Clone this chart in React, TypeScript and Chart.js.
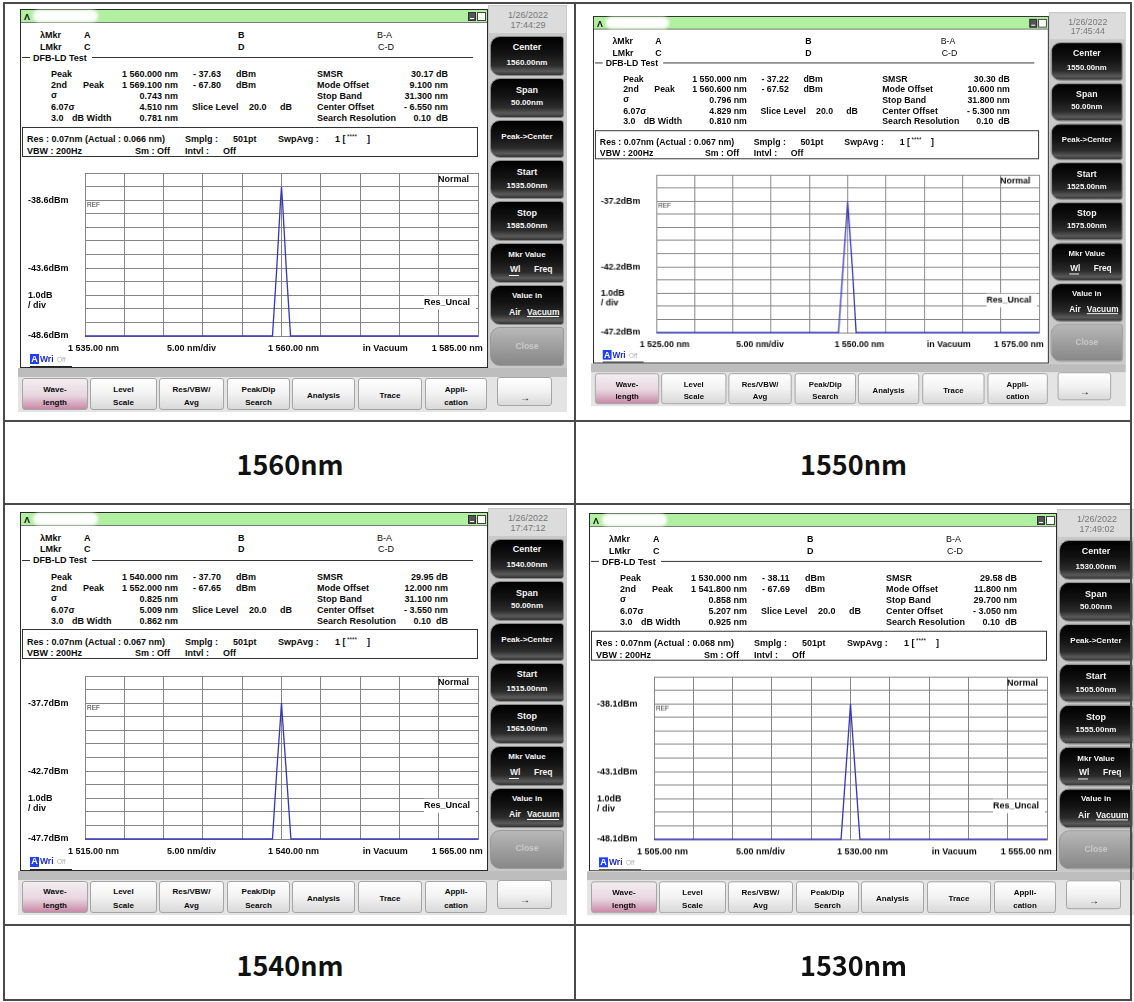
import React, { useEffect, useRef } from "react";
import { Chart, registerables } from "chart.js";
Chart.register(...registerables);

// ---------------- data ----------------
const captions = ["1560nm", "1550nm", "1540nm", "1530nm"];
const centerWl = [1560, 1550, 1540, 1530];
const spanWl = [50, 50, 50, 50];
const refLevel = [-38.6, -37.2, -37.7, -38.1];
const dateText = ["1/26/2022", "1/26/2022", "1/26/2022", "1/26/2022"];
const timeText = ["17:44:29", "17:45:44", "17:47:12", "17:49:02"];
const peakWlText = ["1 560.000 nm", "1 550.000 nm", "1 540.000 nm", "1 530.000 nm"];
const peakLvlText = ["- 37.63", "- 37.22", "- 37.70", "- 38.11"];
const secondWlText = ["1 569.100 nm", "1 560.600 nm", "1 552.000 nm", "1 541.800 nm"];
const secondLvlText = ["- 67.80", "- 67.52", "- 67.65", "- 67.69"];
const sigmaText = ["0.743", "0.796", "0.825", "0.858"];
const sigma607Text = ["4.510", "4.829", "5.009", "5.207"];
const width3dBText = ["0.781", "0.810", "0.862", "0.925"];
const smsrText = ["30.17", "30.30", "29.95", "29.58"];
const modeOffsetText = ["9.100", "10.600", "12.000", "11.800"];
const stopBandText = ["31.300", "31.800", "31.100", "29.700"];
const centerOffsetText = ["- 6.550", "- 5.300", "- 3.550", "- 3.050"];
const actualResText = ["0.066", "0.067", "0.067", "0.068"];

// traces (wavelength nm, level dBm) read from the screens; floor = bottom of screen
const trace1560Wl = [1535, 1558.85, 1559.4, 1559.85, 1560.0, 1560.15, 1560.6, 1561.15, 1585];
const trace1560Dbm = [-48.6, -48.6, -43.6, -38.9, -37.63, -38.9, -43.6, -48.6, -48.6];
const trace1550Wl = [1525, 1548.8, 1549.4, 1549.85, 1550.0, 1550.15, 1550.6, 1551.1, 1575];
const trace1550Dbm = [-47.2, -47.2, -42.2, -38.5, -37.22, -38.5, -42.2, -47.2, -47.2];
const trace1540Wl = [1515, 1538.85, 1539.4, 1539.85, 1540.0, 1540.15, 1540.6, 1541.2, 1565];
const trace1540Dbm = [-47.7, -47.7, -42.7, -39.0, -37.7, -39.0, -42.7, -47.7, -47.7];
const trace1530Wl = [1505, 1528.8, 1529.4, 1529.85, 1530.0, 1530.15, 1530.6, 1531.2, 1555];
const trace1530Dbm = [-48.1, -48.1, -43.1, -39.4, -38.11, -39.4, -43.1, -48.1, -48.1];
const traceWl = [trace1560Wl, trace1550Wl, trace1540Wl, trace1530Wl];
const traceDbm = [trace1560Dbm, trace1550Dbm, trace1540Dbm, trace1530Dbm];

const xDivisions = [0, 1, 2, 3, 4, 5, 6, 7, 8, 9, 10];
const yDivisions = [0, 1, 2, 3, 4, 5, 6, 7, 8, 9, 10, 11, 12];
const dbPerDiv = 1.0;

// panel placement (window top-left + scale)
const panelPos = [
  { ox: 20, oy: 9, sx: 1, sy: 1 },
  { ox: 593, oy: 16, sx: 0.974, sy: 0.968 },
  { ox: 20, oy: 511.5, sx: 1, sy: 1 },
  { ox: 589, oy: 513, sx: 1, sy: 0.998 },
];
const captionCells = [
  { x1: 5, x2: 575, y1: 422, y2: 504 },
  { x1: 576, x2: 1131, y1: 422, y2: 504 },
  { x1: 5, x2: 575, y1: 927, y2: 1001 },
  { x1: 576, x2: 1131, y1: 927, y2: 1001 },
];

const F = '"Liberation Sans", Arial, sans-serif';
const OX = 20;
const OY = 9;

function fmtNmLabel(v: number) {
  const th = Math.floor(v / 1000);
  const rest = (v - th * 1000).toFixed(2).padStart(6, "0");
  return `${th} ${rest} nm`;
}

const osaLabelPlugin = {
  id: "osaLabels",
  afterDraw(chart: any, _args: any, o: any) {
    const { ctx, chartArea: a, scales } = chart;
    const ys = scales.y;
    const xs = scales.x;
    ctx.save();
    ctx.fillStyle = "#0a0a0a";
    ctx.font = `bold 9px ${F}`;
    ctx.textBaseline = "middle";
    ctx.textAlign = "left";
    for (const [v, s] of o.yLabels) ctx.fillText(s, 7, ys.getPixelForValue(v));
    const ly = a.bottom + 12.3;
    ctx.fillText(fmtNmLabel(o.start), a.left - 17, ly);
    ctx.fillText(`${o.perDiv.toFixed(2)} nm/div`, a.left + (a.right - a.left) * 0.2087, ly);
    ctx.fillText(fmtNmLabel(o.center), xs.getPixelForValue(o.center) - 13.5, ly);
    ctx.fillText("in Vacuum", a.left + (a.right - a.left) * 0.707, ly);
    ctx.textAlign = "right";
    ctx.fillText(fmtNmLabel(o.stop), a.right + 4.7, ly);
    // Normal
    ctx.textBaseline = "top";
    ctx.fillText("Normal", a.right - 9, a.top + 2.5);
    // REF
    ctx.textAlign = "left";
    ctx.font = `6.5px ${F}`;
    ctx.fillStyle = "#333";
    ctx.fillText("REF", a.left + 2, ys.getPixelForValue(o.ref) + 2);
    // Res_Uncal
    const ry = ys.getPixelForValue(o.ref - 7.55);
    ctx.fillStyle = "#fff";
    ctx.fillRect(a.right - 54, ry - 7, 52, 14);
    ctx.fillStyle = "#0a0a0a";
    ctx.font = `bold 9px ${F}`;
    ctx.textBaseline = "middle";
    ctx.textAlign = "right";
    ctx.fillText("Res_Uncal", a.right - 8, ry);
    ctx.restore();
  },
};

function OsaChart({ i }: { i: number }) {
  const ref = useRef<HTMLCanvasElement>(null);
  useEffect(() => {
    const c = centerWl[i];
    const span = spanWl[i];
    const start = c - span / 2;
    const stop = c + span / 2;
    const r = refLevel[i];
    const top = r + 2 * dbPerDiv;
    const bottom = r - 10 * dbPerDiv;
    const chart = new Chart(ref.current as HTMLCanvasElement, {
      type: "line",
      data: {
        datasets: [
          {
            data: traceWl[i].map((x, k) => ({ x, y: traceDbm[i][k] })),
            borderColor: "#3636bc",
            borderWidth: 1.3,
            pointRadius: 0,
            tension: 0,
            clip: 3,
          } as any,
        ],
      },
      options: {
        animation: false,
        responsive: false,
        devicePixelRatio: 1,
        layout: { padding: { left: 64, right: 9, top: 8, bottom: 30 } },
        plugins: {
          legend: { display: false },
          tooltip: { enabled: false },
          osaLabels: {
            ref: r,
            start,
            stop,
            center: c,
            perDiv: span / 10,
            yLabels: [
              [r, `${r.toFixed(1)}dBm`],
              [r - 5 * dbPerDiv, `${(r - 5 * dbPerDiv).toFixed(1)}dBm`],
              [bottom, `${bottom.toFixed(1)}dBm`],
              [r - 7 * dbPerDiv, `${dbPerDiv.toFixed(1)}dB`],
              [r - 7.75 * dbPerDiv, "/ div"],
            ],
          },
        } as any,
        scales: {
          x: {
            type: "linear",
            min: start,
            max: stop,
            afterBuildTicks: (s: any) => {
              s.ticks = xDivisions.map((d) => ({ value: start + (d * span) / 10 }));
            },
            ticks: { display: false },
            grid: { color: "#858585", lineWidth: 1, drawTicks: false },
            border: { color: "#858585" },
          },
          y: {
            type: "linear",
            min: bottom,
            max: top,
            afterBuildTicks: (s: any) => {
              s.ticks = yDivisions.map((d) => ({ value: bottom + d * dbPerDiv }));
            },
            ticks: { display: false },
            grid: { color: "#858585", lineWidth: 1, drawTicks: false },
            border: { color: "#858585" },
          },
        },
      } as any,
      plugins: [osaLabelPlugin as any],
    });
    return () => chart.destroy();
  }, [i]);
  return (
    <canvas
      ref={ref}
      width={466}
      height={201}
      style={{ position: "absolute", left: 1, top: 156, width: 466, height: 201 }}
    />
  );
}

function T({ x, y, s, size = 9, w = 700, c = "#0a0a0a", a = "l" }: any) {
  const lh = 10;
  const top = y - OY - ((lh - 1.149 * size) / 2 + 0.189 * size);
  const st: any = {
    position: "absolute",
    top,
    fontFamily: F,
    fontSize: size,
    fontWeight: w,
    color: c,
    lineHeight: lh + "px",
    whiteSpace: "pre",
  };
  if (a === "l") st.left = x - OX;
  else if (a === "r") {
    st.left = x - OX - 300;
    st.width = 300;
    st.textAlign = "right";
  } else {
    st.left = x - OX - 150;
    st.width = 300;
    st.textAlign = "center";
  }
  return <div style={st}>{s}</div>;
}

function Bx({ x1, y1, x2, y2, st }: any) {
  return (
    <div
      style={{
        position: "absolute",
        left: x1 - OX,
        top: y1 - OY,
        width: x2 - x1,
        height: y2 - y1,
        boxSizing: "border-box",
        ...st,
      }}
    />
  );
}

const darkBtn = {
  background:
    "linear-gradient(180deg,#000 0%,#141414 45%,#2c2c2c 75%,#5a5a5a 90%,#333 100%)",
  borderRadius: "10px 3px 3px 10px",
  border: "1px solid #8a8a8a",
};
const grayBtn = {
  background: "linear-gradient(180deg,#b8b8b8 0%,#9a9a9a 60%,#888 100%)",
  borderRadius: "10px 3px 3px 10px",
  border: "1px solid #9a9a9a",
};
const lightBtn = {
  background: "linear-gradient(180deg,#ffffff 0%,#f2f2f2 50%,#d9d9d9 100%)",
  border: "1px solid #a5a5a5",
  borderRadius: 3,
};
const pinkBtn = {
  background: "linear-gradient(180deg,#f3eef0 0%,#e8d6df 55%,#c98aa8 100%)",
  border: "1px solid #a5a5a5",
  borderRadius: 3,
};
const bottomBtnX = [
  [22, 88],
  [90, 157],
  [159, 224],
  [227, 290],
  [292, 355],
  [358, 422],
  [425, 487],
];
const bottomBtnText = [
  ["Wave-", "length"],
  ["Level", "Scale"],
  ["Res/VBW/", "Avg"],
  ["Peak/Dip", "Search"],
  ["Analysis"],
  ["Trace"],
  ["Appli-", "cation"],
];

function Panel({ i, ox, oy, sx, sy }: any) {
  const c = centerWl[i];
  const span = spanWl[i];
  const rows = [70.7, 81.7, 92.7, 103.7, 114.7];
  const W = "#f4f4f4";
  return (
    <div
      style={{
        position: "absolute",
        left: ox,
        top: oy,
        width: 560,
        height: 410,
        transform: `scale(${sx},${sy})`,
        transformOrigin: "0 0",
      }}
    >
      {/* device background */}
      <Bx x1={18} y1={368} x2={567} y2={377} st={{ background: "#bdbdbd" }} />
      <Bx x1={18} y1={377} x2={567} y2={412} st={{ background: "#e4e4e4" }} />
      <Bx x1={488} y1={5} x2={567} y2={368} st={{ background: "#c9c9c9" }} />
      <Bx x1={489} y1={6} x2={566} y2={33} st={{ background: "#dcdcdc" }} />
      <T x={528} y={11.7} s={dateText[i]} size={9} w={400} c="#777" a="c" />
      <T x={528} y={21.7} s={timeText[i]} size={9} w={400} c="#777" a="c" />

      {/* side buttons */}
      <Bx x1={490} y1={36} x2={564} y2={76} st={darkBtn} />
      <T x={527} y={43.3} s="Center" c={W} a="c" />
      <T x={527} y={59.7} s={`${c.toFixed(2)}nm`} c={W} a="c" size={8} />
      <Bx x1={490} y1={78} x2={564} y2={118} st={darkBtn} />
      <T x={527} y={86.7} s="Span" c={W} a="c" />
      <T x={527} y={100} s={`${span.toFixed(2)}nm`} c={W} a="c" size={8} />
      <Bx x1={490} y1={120} x2={564} y2={158} st={darkBtn} />
      <T x={527} y={134} s="Peak->Center" c={W} a="c" size={8} />
      <Bx x1={490} y1={160} x2={564} y2={199} st={darkBtn} />
      <T x={527} y={168.3} s="Start" c={W} a="c" />
      <T x={527} y={183.3} s={`${(c - span / 2).toFixed(2)}nm`} c={W} a="c" size={8} />
      <Bx x1={490} y1={201} x2={564} y2={241} st={darkBtn} />
      <T x={527} y={210} s="Stop" c={W} a="c" />
      <T x={527} y={223.3} s={`${(c + span / 2).toFixed(2)}nm`} c={W} a="c" size={8} />
      <Bx x1={490} y1={243} x2={564} y2={283} st={darkBtn} />
      <T x={527} y={251.7} s="Mkr Value" c={W} a="c" size={8} />
      <T x={510} y={266} s="Wl" c={W} size={8.5} />
      <T x={534} y={266} s="Freq" c={W} size={8.5} />
      <Bx x1={509} y1={275} x2={519} y2={276} st={{ background: W }} />
      <Bx x1={490} y1={285} x2={564} y2={325} st={darkBtn} />
      <T x={527} y={293.3} s="Value in" c={W} a="c" size={8} />
      <T x={509} y={308.3} s="Air" c={W} size={8.5} />
      <T x={527} y={308.3} s="Vacuum" c={W} size={8.5} />
      <Bx x1={527} y1={316} x2={559} y2={317} st={{ background: W }} />
      <Bx x1={490} y1={327} x2={564} y2={366} st={grayBtn} />
      <T x={527} y={342.7} s="Close" c="#c8c8c8" a="c" size={8.5} />

      {/* bottom buttons */}
      {bottomBtnX.map(([x1, x2], k) => (
        <React.Fragment key={k}>
          <Bx x1={x1} y1={378} x2={x2} y2={410} st={k === 0 ? pinkBtn : lightBtn} />
          {bottomBtnText[k].length === 2 ? (
            <>
              <T x={(x1 + x2) / 2} y={386.7} s={bottomBtnText[k][0]} a="c" size={8} />
              <T x={(x1 + x2) / 2} y={400} s={bottomBtnText[k][1]} a="c" size={8} />
            </>
          ) : (
            <T x={(x1 + x2) / 2} y={393.3} s={bottomBtnText[k][0]} a="c" size={8} />
          )}
        </React.Fragment>
      ))}
      <Bx x1={497} y1={377} x2={552} y2={406} st={lightBtn} />
      <T x={525} y={394} s="→" a="c" size={10} w={400} />

      {/* main window */}
      <Bx x1={20} y1={9} x2={488} y2={368} st={{ background: "#fff", border: "1px solid #2a2a2a" }} />
      <Bx x1={21} y1={10} x2={487} y2={23} st={{ background: "#b1efa1", borderBottom: "1px solid #7a7a7a" }} />
      <Bx
        x1={33}
        y1={10}
        x2={98}
        y2={22}
        st={{ background: "#fff", borderRadius: 6, filter: "blur(1.5px)" }}
      />
      <T x={24} y={14} s="Λ" size={9} c="#111" />
      <Bx x1={468} y1={12} x2={476} y2={21} st={{ background: "#555", border: "1px solid #333" }} />
      <Bx x1={470} y1={18} x2={474} y2={19} st={{ background: "#fff" }} />
      <Bx x1={477} y1={12} x2={486} y2={21} st={{ background: "#fff", border: "1px solid #444" }} />

      {/* marker rows */}
      <T x={40} y={31.7} s="λMkr" />
      <T x={84} y={31.7} s="A" />
      <T x={238} y={31.7} s="B" />
      <T x={377} y={31.7} s="B-A" w={400} />
      <T x={40} y={43.3} s="LMkr" />
      <T x={84} y={43.3} s="C" />
      <T x={238} y={43.3} s="D" />
      <T x={378} y={43.3} s="C-D" w={400} />
      <Bx x1={22} y1={57} x2={30} y2={58} st={{ background: "#333" }} />
      <T x={33} y={54.3} s="DFB-LD Test" />
      <Bx x1={92} y1={57} x2={473} y2={58} st={{ background: "#333" }} />

      {/* analysis results */}
      <T x={51} y={rows[0]} s="Peak" />
      <T x={178} y={rows[0]} s={peakWlText[i]} a="r" />
      <T x={193} y={rows[0]} s={peakLvlText[i]} />
      <T x={236} y={rows[0]} s="dBm" />
      <T x={317} y={rows[0]} s="SMSR" />
      <T x={448} y={rows[0]} s={`${smsrText[i]} dB`} a="r" />

      <T x={51} y={rows[1]} s="2nd" />
      <T x={83} y={rows[1]} s="Peak" />
      <T x={178} y={rows[1]} s={secondWlText[i]} a="r" />
      <T x={193} y={rows[1]} s={secondLvlText[i]} />
      <T x={236} y={rows[1]} s="dBm" />
      <T x={317} y={rows[1]} s="Mode Offset" />
      <T x={448} y={rows[1]} s={`${modeOffsetText[i]} nm`} a="r" />

      <T x={51} y={rows[2] - 1} s="σ" />
      <T x={178} y={rows[2]} s={`${sigmaText[i]} nm`} a="r" />
      <T x={317} y={rows[2]} s="Stop Band" />
      <T x={448} y={rows[2]} s={`${stopBandText[i]} nm`} a="r" />

      <T x={51} y={rows[3]} s="6.07σ" />
      <T x={178} y={rows[3]} s={`${sigma607Text[i]} nm`} a="r" />
      <T x={192} y={rows[3]} s="Slice Level" />
      <T x={249} y={rows[3]} s="20.0" />
      <T x={280} y={rows[3]} s="dB" />
      <T x={317} y={rows[3]} s="Center Offset" />
      <T x={448} y={rows[3]} s={`${centerOffsetText[i]} nm`} a="r" />

      <T x={51} y={rows[4]} s="3.0" />
      <T x={72} y={rows[4]} s="dB Width" />
      <T x={178} y={rows[4]} s={`${width3dBText[i]} nm`} a="r" />
      <T x={317} y={rows[4]} s="Search Resolution" />
      <T x={448} y={rows[4]} s="0.10  dB" a="r" />

      {/* settings box */}
      <Bx x1={22} y1={126.7} x2={478} y2={157} st={{ border: "1px solid #333" }} />
      <T x={27} y={136} s={`Res : 0.07nm (Actual : ${actualResText[i]} nm)`} />
      <T x={185} y={136} s="Smplg :" />
      <T x={233} y={136} s="501pt" />
      <T x={278} y={136} s="SwpAvg :" />
      <T x={335} y={136} s="1 [" />
      <T x={347} y={134.5} s="****" size={6.5} w={400} />
      <T x={367} y={136} s="]" />
      <T x={27} y={147.3} s="VBW : 200Hz" />
      <T x={135} y={147.3} s="Sm :" />
      <T x={157} y={147.3} s="Off" />
      <T x={185} y={147.3} s="Intvl :" />
      <T x={223} y={147.3} s="Off" />

      {/* chart */}
      <OsaChart i={i} />

      {/* A Wri Off */}
      <Bx x1={30} y1={354} x2={39} y2={364} st={{ background: "#2040ff" }} />
      <T x={34.5} y={355.5} s="A" c="#fff" a="c" size={9} />
      <T x={40} y={355.5} s="Wri" c="#1a2ad0" size={8.5} />
      <T x={57} y={357} s="Off" c="#b0b0b0" size={6.5} w={400} />
      <Bx x1={30} y1={366} x2={72} y2={367} st={{ background: "#222" }} />
    </div>
  );
}

export default function App() {
  const line = "#4a4a4a";
  return (
    <div
      style={{
        position: "absolute",
        left: 0,
        top: 0,
        width: 1134,
        height: 1002,
        background: "#fff",
        overflow: "hidden",
      }}
    >
      {panelPos.map((p, i) => (
        <Panel key={i} i={i} {...p} />
      ))}
      {captionCells.map((cc, i) => (
        <div
          key={i}
          style={{
            position: "absolute",
            left: cc.x1,
            top: cc.y1,
            width: cc.x2 - cc.x1,
            height: cc.y2 - cc.y1,
            display: "flex",
            alignItems: "center",
            justifyContent: "center",
            fontFamily: '"Noto Sans CJK SC", "Noto Sans", sans-serif',
            fontWeight: 700,
            fontSize: 27,
            color: "#111",
          }}
        >
          {captions[i]}
        </div>
      ))}
      {/* table lines */}
      <div style={{ position: "absolute", left: 3, top: 2, width: 1129, height: 999, border: `2px solid ${line}`, boxSizing: "border-box" }} />
      <div style={{ position: "absolute", left: 574, top: 2, width: 2, height: 999, background: line }} />
      <div style={{ position: "absolute", left: 3, top: 420, width: 1129, height: 2, background: line }} />
      <div style={{ position: "absolute", left: 3, top: 503, width: 1129, height: 2, background: line }} />
      <div style={{ position: "absolute", left: 3, top: 924, width: 1129, height: 2, background: line }} />
    </div>
  );
}
